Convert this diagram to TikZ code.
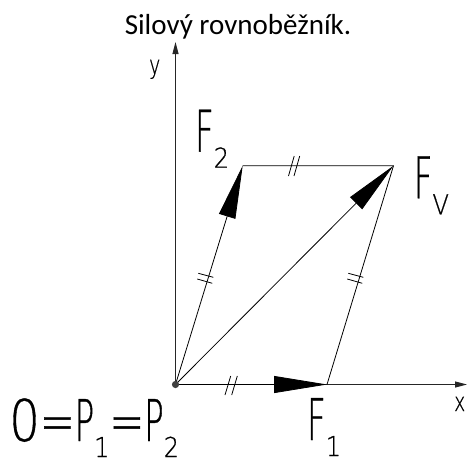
\documentclass[tikz,border=0pt]{standalone}
\usepackage{fontspec}
\usetikzlibrary{arrows.meta}
\newfontfamily\isoF[FakeStretch=0.56,FakeBold=0.6]{DejaVu Sans ExtraLight}
\newfontfamily\isoE[FakeStretch=0.72,FakeBold=0.6]{DejaVu Sans ExtraLight}
\newfontfamily\isoD[FakeStretch=0.84,FakeBold=0.6]{DejaVu Sans ExtraLight}
\newfontfamily\isoS[FakeStretch=0.88,FakeBold=0.6]{DejaVu Sans ExtraLight}
\newfontfamily\isoX[FakeStretch=0.72,FakeBold=0.6]{DejaVu Sans ExtraLight}
\newfontfamily\titlefont{Carlito}
\newcommand\isobig{\fontsize{57.6}{60}\selectfont}
\newcommand\isosmall{\fontsize{27.4}{30}\selectfont}
\newcommand\isosub[1]{\raisebox{-16pt}{\isoS\isosmall #1}}
\newcommand\isoletter[1]{{\isoF\isobig #1}}
\newcommand\isoeq{{\isoE\isobig =}}
\newcommand\isozero{{\isoD\isobig 0}}
\tikzset{
  axisline/.style={draw=black!85, line width=1pt, -{Triangle[length=12pt,width=6pt]}},
  thinline/.style={draw=black, line width=0.8pt},
  vecline/.style={draw=black, line width=0.8pt, -{Triangle[length=53pt,width=17pt]}},
  tickline/.style={draw=black, line width=0.8pt},
  isolabel/.style={inner sep=0pt, anchor=base west},
  axlabel/.style={inner sep=0pt, anchor=base west, font=\isoX\fontsize{26}{28}\selectfont},
  titletext/.style={inner sep=0pt, anchor=base, font=\titlefont\fontsize{29}{32}\selectfont}
}
\begin{document}
\begin{tikzpicture}[x=1pt,y=-1pt]
\useasboundingbox (0,0) rectangle (468,463);
\coordinate (O) at (175.5,384.5);
\coordinate (A) at (327,384.5);
\coordinate (B) at (242.7,165.7);
\coordinate (C) at (393.5,165.7);
\coordinate (X) at (467,384.5);
\coordinate (Y) at (175.5,42);
% axes
\draw[axisline] (O) -- (X);
\draw[axisline] (O) -- (Y);
% parallelogram sides
\draw[thinline] (B) -- (C) -- (A);
% vectors
\draw[vecline] (O) -- (A);
\draw[vecline] (O) -- (B);
\draw[vecline] (O) -- (C);
% tick marks
\draw[tickline] (225,395) -- (230.7,376);
\draw[tickline] (231.7,395) -- (237.3,376);
\draw[tickline] (288.5,176) -- (294.2,156);
\draw[tickline] (294,176) -- (299.7,156);
\draw[tickline] (198.3,273.3) -- (213.3,277.3);
\draw[tickline] (197.3,279) -- (212.3,283.3);
\draw[tickline] (348.3,273.3) -- (363.3,277.3);
\draw[tickline] (347.3,279) -- (362.3,283.3);
% origin dot
\fill[black!75] (O) circle (3.6);
% labels
\node[titletext] (title) at (238,34) {Silový rovnoběžník.};
\node[axlabel] (ylab) at (149,74) {y};
\node[axlabel] (xlab) at (454,411) {x};
\node[isolabel] (f2) at (195,151.7) {\isoletter{F}\isosub{2}};
\node[isolabel] (fv) at (413.7,198.3) {\isoletter{F}\isosub{V}};
\node[isolabel] (f1) at (307,440) {\isoletter{F}\isosub{1}};
\node[isolabel] (opp) at (9,441) {\isozero\isoeq\isoletter{P}\isosub{1}\isoeq\isoletter{P}\isosub{2}};
\end{tikzpicture}
\end{document}
